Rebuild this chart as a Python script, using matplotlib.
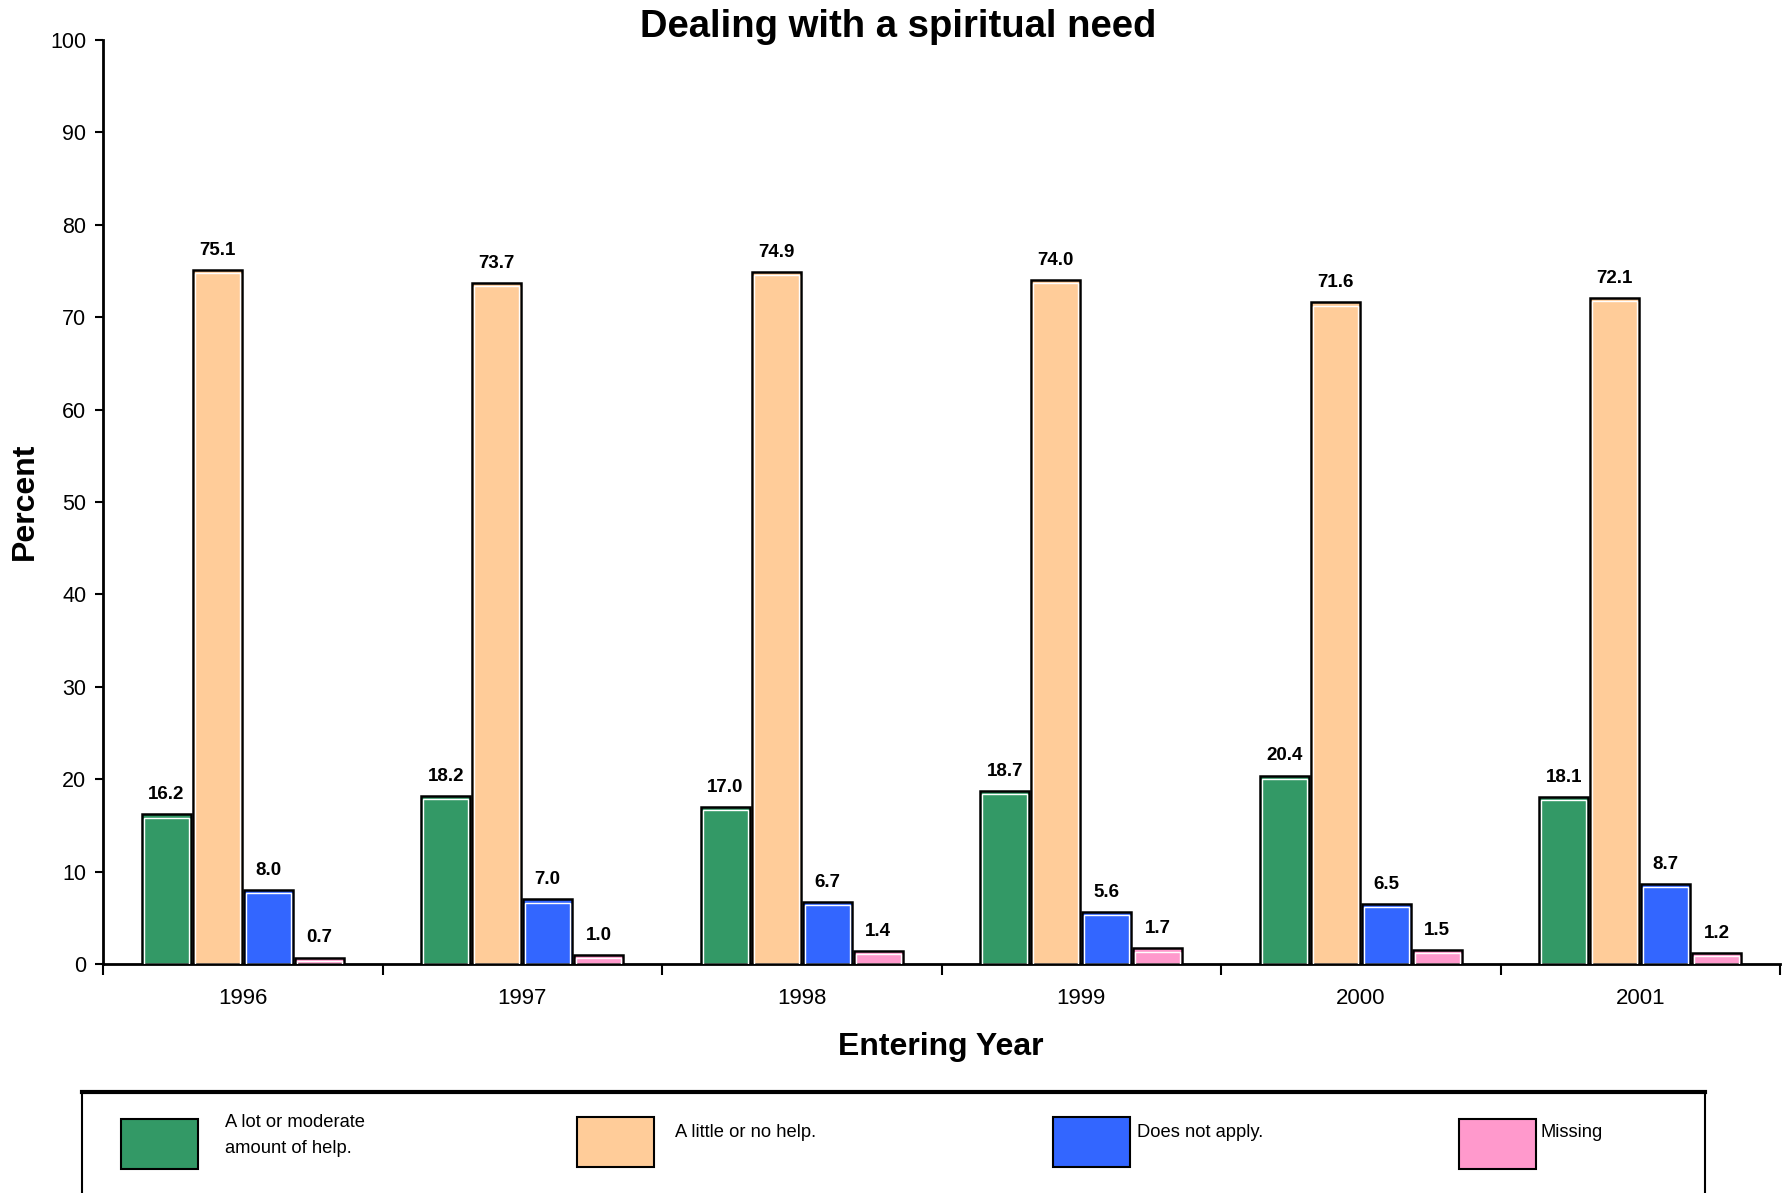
import numpy as np
import matplotlib
matplotlib.use("Agg")
import matplotlib.pyplot as plt
from matplotlib.patches import Rectangle

# data
years = ["1996", "1997", "1998", "1999", "2000", "2001"]
series_names = ["A lot or moderate\namount of help.", "A little or no help.",
                "Does not apply.", "Missing"]
lot_help = [16.2, 18.2, 17.0, 18.7, 20.4, 18.1]
little_help = [75.1, 73.7, 74.9, 74.0, 71.6, 72.1]
not_apply = [8.0, 7.0, 6.7, 5.6, 6.5, 8.7]
missing = [0.7, 1.0, 1.4, 1.7, 1.5, 1.2]
colors = ["#339966", "#FFCC99", "#3366FF", "#FF99CC"]

plt.rcParams['font.family'] = ['Liberation Sans', 'DejaVu Sans']

W, H = 1787, 1193
fig = plt.figure(figsize=(W / 100, H / 100), dpi=100)
ax = fig.add_axes([103 / W, 1 - 964 / H, (1780 - 103) / W, (964 - 40) / H])

x = np.arange(len(years))
width = 0.175
step = 0.182
offsets = (np.arange(4) - 1.5) * step
all_series = [lot_help, little_help, not_apply, missing]

for vals, off, col in zip(all_series, offsets, colors):
    bars = ax.bar(x + off, vals, width, color=col, edgecolor='black', linewidth=1.8, zorder=3)
    # thin white inner border like the original chart
    inner = np.maximum(np.array(vals) - 0.35, 0)
    ax.bar(x + off, inner, width - 0.014, fill=False, edgecolor='white', linewidth=1.0, zorder=4)
    for b, v in zip(bars, vals):
        ax.annotate(f"{v:.1f}", (b.get_x() + b.get_width() / 2, v),
                    xytext=(0, 8), textcoords='offset points',
                    ha='center', va='bottom', fontsize=13.5, fontweight='bold')

ax.set_xlim(-0.5, len(years) - 0.5)
ax.set_ylim(0, 100)
ax.set_yticks(np.arange(0, 101, 10))
ax.tick_params(axis='y', labelsize=15.5, length=6, width=1.5, direction='out', pad=6)
ax.set_xticks(x)
ax.set_xticklabels(years)
ax.tick_params(axis='x', which='major', length=0, labelsize=16, pad=17)
ax.set_xticks(np.arange(-0.5, len(years), 1.0), minor=True)
ax.tick_params(axis='x', which='minor', length=8, width=1.5, direction='out')

for s in ['top', 'right']:
    ax.spines[s].set_visible(False)
for s in ['left', 'bottom']:
    ax.spines[s].set_linewidth(2)

fig.text(898 / W, 1 - 27 / H, "Dealing with a spiritual need", ha='center', va='center',
         fontsize=27.5, fontweight='bold')
fig.text(25 / W, 1 - 501 / H, "Percent", ha='center', va='center', rotation=90,
         fontsize=23, fontweight='bold')
fig.text(941 / W, 1 - 1047 / H, "Entering Year", ha='center', va='center',
         fontsize=23, fontweight='bold')

# legend box
fig.patches.append(Rectangle((82 / W, -0.05), (1705 - 82) / W, 0.05 + 1 - 1092 / H,
                             transform=fig.transFigure, facecolor='white',
                             edgecolor='black', linewidth=1.5))
fig.add_artist(plt.Line2D([82 / W, 1705 / W], [1 - 1092 / H, 1 - 1092 / H],
                          transform=fig.transFigure, color='black', linewidth=3))
hx = [121, 577, 1053, 1459]
hy = [1119, 1117, 1117, 1119]
tx = [225, 675, 1137, 1541]
ty = [1114, 1124, 1124, 1124]
for i in range(4):
    fig.patches.append(Rectangle((hx[i] / W, 1 - (hy[i] + 50) / H), 77 / W, 50 / H,
                                 transform=fig.transFigure, facecolor=colors[i],
                                 edgecolor='black', linewidth=1.5))
    fig.text(tx[i] / W, 1 - ty[i] / H, series_names[i], ha='left', va='top',
             fontsize=13.2, linespacing=1.7)

fig.savefig("out.png", dpi=100)
